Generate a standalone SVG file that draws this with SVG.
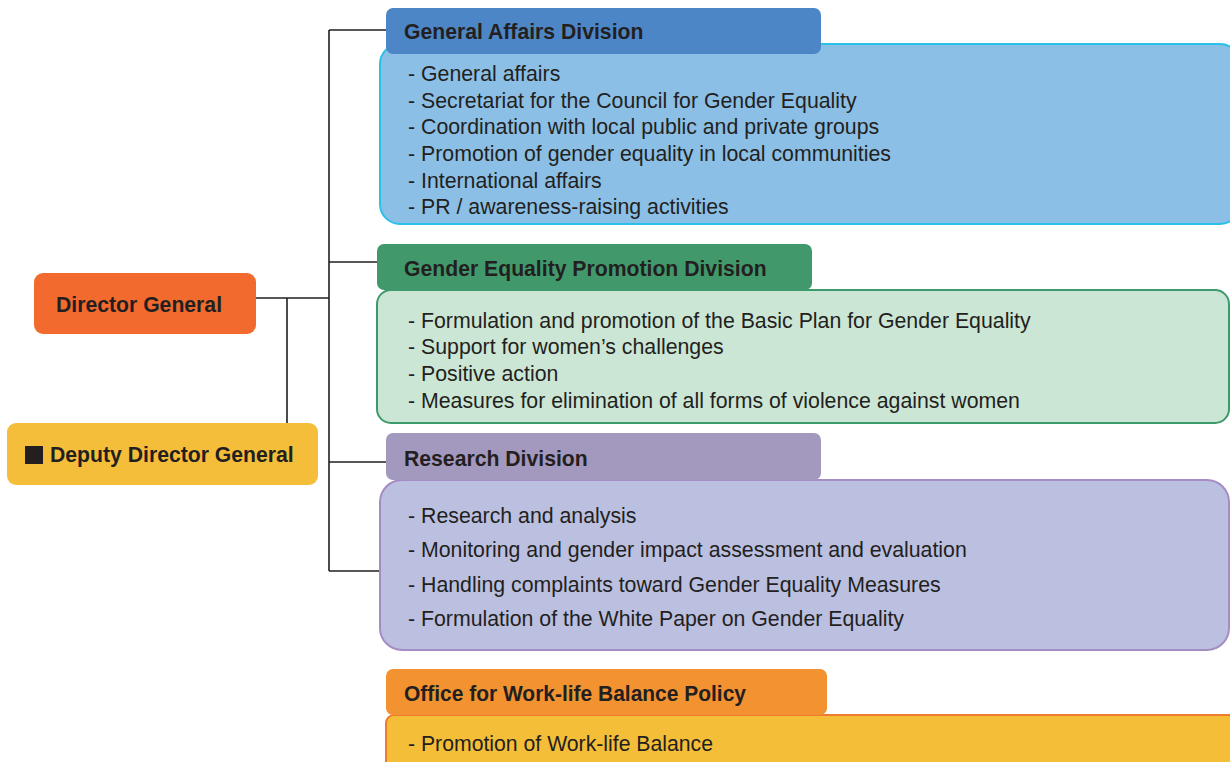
<svg xmlns="http://www.w3.org/2000/svg" width="1230" height="762" viewBox="0 0 1230 762">
<style>
text{font-family:"Liberation Sans",Arial,sans-serif;fill:#231F20}
.h{font-weight:bold;font-size:21.2px}
.b{font-size:21.3px}
.c{stroke:#231F20;stroke-width:1.6;fill:none}
</style>
<rect width="1230" height="762" fill="#fff"/>
<g id="connectors">
<path class="c" d="M256 298H329M287 298V423M329 30V571M329 30H386M329 262H378M329 462H386M329 571H380"/>
</g>
<g id="director-general">
<rect x="34" y="273" width="222" height="61" rx="9" fill="#F26A2E"/>
<text class="h" x="56" y="312">Director General</text>
</g>
<g id="deputy-director-general">
<rect x="7" y="423" width="311" height="62" rx="9" fill="#F5BE3A"/>
<rect x="25" y="446" width="18" height="18" fill="#231F20"/>
<text class="h" x="50" y="462">Deputy Director General</text>
</g>
<g id="general-affairs">
<rect x="380" y="44" width="860" height="180" rx="20" fill="#8BBFE6" stroke="#2BC0E8" stroke-width="2"/>
<rect x="386" y="8" width="435" height="46" rx="7" fill="#4D86C6"/>
<text class="h" x="404" y="39">General Affairs Division</text>
<text class="b" x="408" y="81">- General affairs</text>
<text class="b" x="408" y="108">- Secretariat for the Council for Gender Equality</text>
<text class="b" x="408" y="134">- Coordination with local public and private groups</text>
<text class="b" x="408" y="161">- Promotion of gender equality in local communities</text>
<text class="b" x="408" y="188">- International affairs</text>
<text class="b" x="408" y="214">- PR / awareness-raising activities</text>
</g>
<g id="gender-equality">
<rect x="377" y="290" width="852" height="133" rx="14" fill="#CCE6D5" stroke="#3D9A6B" stroke-width="2"/>
<rect x="377" y="244" width="435" height="46" rx="7" fill="#41996B"/>
<text class="h" x="404" y="276">Gender Equality Promotion Division</text>
<text class="b" x="408" y="328">- Formulation and promotion of the Basic Plan for Gender Equality</text>
<text class="b" x="408" y="354">- Support for women’s challenges</text>
<text class="b" x="408" y="381">- Positive action</text>
<text class="b" x="408" y="408">- Measures for elimination of all forms of violence against women</text>
</g>
<g id="research">
<rect x="380" y="480" width="849" height="170" rx="22" fill="#BBBFE0" stroke="#A58DC4" stroke-width="2"/>
<rect x="386" y="433" width="435" height="47" rx="7" fill="#A398BE"/>
<text class="h" x="404" y="466">Research Division</text>
<text class="b" x="408" y="523">- Research and analysis</text>
<text class="b" x="408" y="557">- Monitoring and gender impact assessment and evaluation</text>
<text class="b" x="408" y="592">- Handling complaints toward Gender Equality Measures</text>
<text class="b" x="408" y="626">- Formulation of the White Paper on Gender Equality</text>
</g>
<g id="work-life">
<rect x="386" y="715" width="860" height="70" rx="8" fill="#F5BE38" stroke="#F07A2E" stroke-width="2"/>
<rect x="386" y="669" width="441" height="46" rx="7" fill="#F39230"/>
<text class="h" x="404" y="701" textLength="342" lengthAdjust="spacingAndGlyphs">Office for Work-life Balance Policy</text>
<text class="b" x="408" y="751" textLength="305" lengthAdjust="spacingAndGlyphs">- Promotion of Work-life Balance</text>
</g>
</svg>
